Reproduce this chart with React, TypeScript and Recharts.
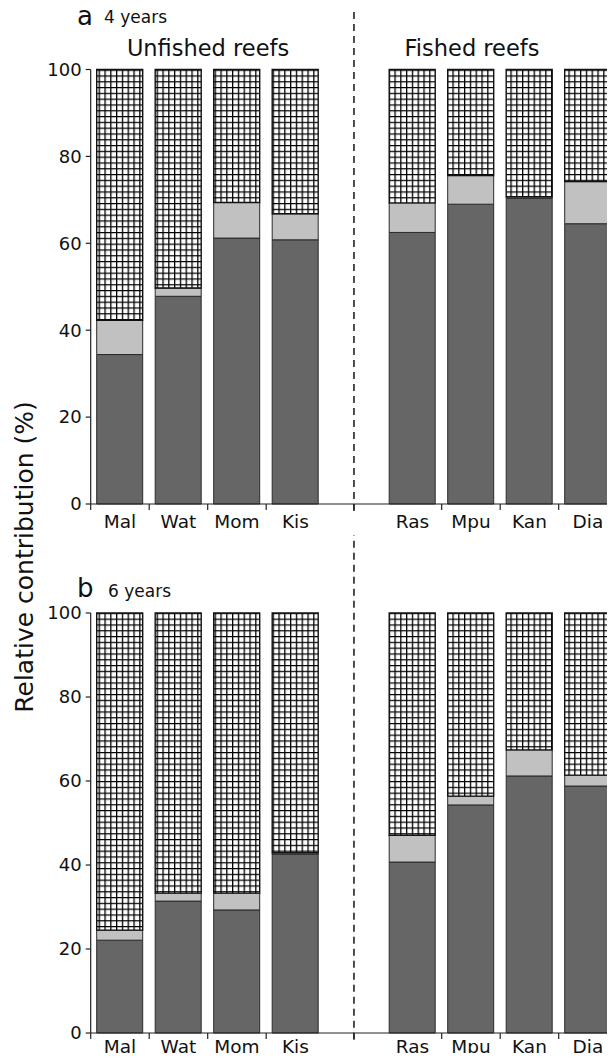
import React from "react";
import { BarChart, Bar, XAxis, YAxis, ReferenceLine } from "recharts";

// sites, with an empty slot between the two groups
const sites = ["Mal", "Wat", "Mom", "Kis", "gap", "Ras", "Mpu", "Kan", "Dia"];

// panel a (4 years): dark part and top of the light part (%)
const darkA = [34.4, 47.8, 61.2, 60.8, null, 62.5, 69.0, 70.4, 64.5];
const lightTopA = [42.3, 49.7, 69.4, 66.8, null, 69.3, 75.6, 70.7, 74.2];

// panel b (6 years)
const darkB = [22.1, 31.4, 29.3, 42.6, null, 40.7, 54.3, 61.2, 58.8];
const lightTopB = [24.5, 33.3, 33.3, 42.9, null, 47.1, 56.4, 67.4, 61.4];

const yTicks = [0, 20, 40, 60, 80, 100];

const FONT = "'DejaVu Sans', 'Liberation Sans', Arial, sans-serif";
const CHART_W = 620;
const MARGIN_L = 30.7;
const MARGIN_R = 2.8;
const Y_W = 60;
const BAND = (CHART_W - MARGIN_L - MARGIN_R - Y_W) / sites.length;

function buildRows(dark: (number | null)[], lightTop: (number | null)[]) {
  return sites.map((name, i) => {
    const d = dark[i];
    const l = lightTop[i];
    if (d == null || l == null) {
      return { name, dark: null, light: null, hatch: null };
    }
    return { name, dark: d, light: l - d, hatch: 100 - l };
  });
}

const SiteTick = ({ x, y, payload, index, labelDy }: any) => {
  let tx = x;
  if (index < 4) tx = x - BAND / 2;
  else if (index > 4) tx = x + BAND / 2;
  return (
    <g>
      <line x1={tx} y1={y} x2={tx} y2={y + 6} stroke="#222" strokeWidth={1.2} />
      {payload.value !== "gap" && (
        <text
          x={x}
          y={y + labelDy}
          textAnchor="middle"
          fill="#111"
          fontSize={18.5}
          fontFamily={FONT}
        >
          {payload.value}
        </text>
      )}
    </g>
  );
};

function Panel({
  rows,
  height,
  top,
  axisHeight,
  patternId,
  dashTop,
  labelDy,
}: {
  rows: any[];
  height: number;
  top: number;
  axisHeight: number;
  patternId: string;
  dashTop: number;
  labelDy: number;
}) {
  return (
    <BarChart
      width={CHART_W}
      height={height}
      data={rows}
      margin={{ top, right: MARGIN_R, left: MARGIN_L, bottom: 0 }}
      barSize={46}
      style={{ overflow: "visible" }}
    >
      <defs>
        <pattern id={patternId} patternUnits="userSpaceOnUse" width={5.8} height={5.8}>
          <rect width={5.8} height={5.8} fill="#fff" />
          <path d="M0 0.6H5.8 M0.6 0V5.8" stroke="#000" strokeWidth={1.4} />
        </pattern>
      </defs>
      <XAxis
        dataKey="name"
        height={axisHeight}
        interval={0}
        tickLine={false}
        tickSize={0}
        tickMargin={0}
        axisLine={{ stroke: "#222", strokeWidth: 1.2 }}
        tick={<SiteTick labelDy={labelDy} />}
      />
      <YAxis
        domain={[0, 100]}
        ticks={yTicks}
        width={Y_W}
        tickSize={5}
        tickMargin={4}
        axisLine={{ stroke: "#222", strokeWidth: 1.2 }}
        tickLine={{ stroke: "#222", strokeWidth: 1.2 }}
        tick={{ fill: "#111", fontSize: 18, fontFamily: FONT }}
      />
      <Bar dataKey="dark" stackId="s" fill="#666666" stroke="#2a2a2a" strokeWidth={1} isAnimationActive={false} />
      <Bar dataKey="light" stackId="s" fill="#c1c1c1" stroke="#2a2a2a" strokeWidth={1} isAnimationActive={false} />
      <Bar dataKey="hatch" stackId="s" fill={`url(#${patternId})`} stroke="#111" strokeWidth={1.4} isAnimationActive={false} />
      <ReferenceLine
        segment={[
          { x: "gap", y: -1.6 },
          { x: "gap", y: dashTop },
        ]}
        ifOverflow="visible"
        stroke="#222"
        strokeWidth={1.6}
        strokeDasharray="7 5"
      />
    </BarChart>
  );
}

export default function App() {
  const rowsA = buildRows(darkA, lightTopA);
  const rowsB = buildRows(darkB, lightTopB);
  const label: React.CSSProperties = { position: "absolute", fontFamily: FONT, color: "#111", whiteSpace: "nowrap", lineHeight: 1 };

  return (
    <div style={{ position: "relative", width: 615, height: 1061, margin: -8, overflow: "hidden", background: "#fff" }}>
      <div style={{ position: "absolute", left: 0, top: 0 }}>
        <Panel rows={rowsA} height={540} top={69.5} axisHeight={36} patternId="gridA" dashTop={114} labelDy={24} />
      </div>
      <div style={{ position: "absolute", left: 0, top: 520 }}>
        <Panel rows={rowsB} height={541} top={93} axisHeight={28} patternId="gridB" dashTop={118.5} labelDy={20} />
      </div>

      <div style={{ ...label, left: 77, top: 3, fontSize: 26 }}>a</div>
      <div style={{ ...label, left: 104, top: 9, fontSize: 17 }}>4 years</div>
      <div style={{ ...label, left: 208, top: 37, fontSize: 22.5, transform: "translateX(-50%)" }}>Unfished reefs</div>
      <div style={{ ...label, left: 472, top: 37, fontSize: 22.5, transform: "translateX(-50%)" }}>Fished reefs</div>

      <div style={{ ...label, left: 77, top: 575, fontSize: 26 }}>b</div>
      <div style={{ ...label, left: 108, top: 583, fontSize: 17 }}>6 years</div>

      <div
        style={{
          ...label,
          left: 24,
          top: 557,
          fontSize: 25,
          transform: "translate(-50%, -50%) rotate(-90deg)",
        }}
      >
        Relative contribution (%)
      </div>
    </div>
  );
}
